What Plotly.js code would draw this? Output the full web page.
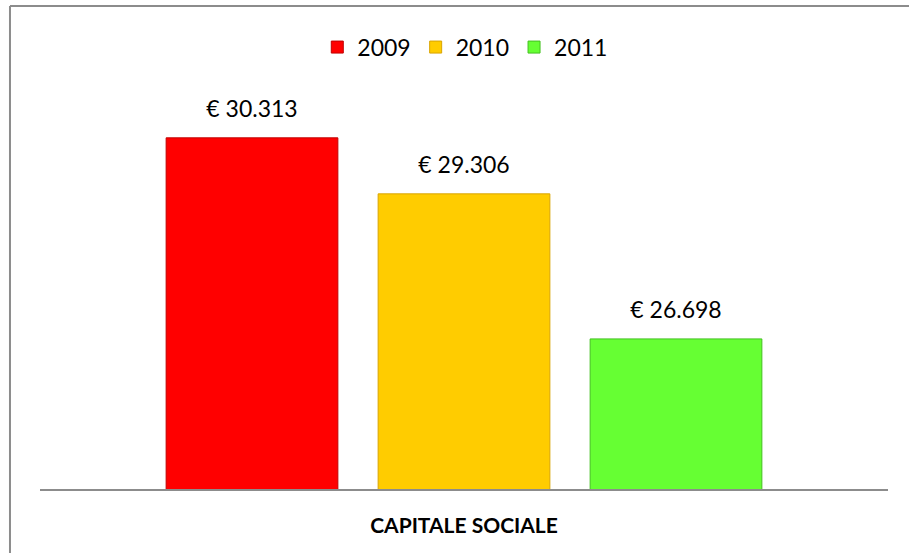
<!DOCTYPE html>
<html>
<head>
<meta charset="utf-8">
<script src="https://cdn.plot.ly/plotly-3.0.1.min.js"></script>
<style>
	html, body { margin: 0; padding: 0; background: #fff; overflow: hidden; }
	#chart { width: 909px; height: 553px; }
</style>
</head>
<body>
<div id="chart"></div>
<script>
// Dati del grafico
var categorie = ["<b>CAPITALE SOCIALE</b>"];
var anni = ["2009", "2010", "2011"];
var valori2009 = [30313];
var valori2010 = [29306];
var valori2011 = [26698];
var colori = ["#ff0000", "#ffcc00", "#66ff33"];
var bordi = ["#c00000", "#d9a400", "#44c020"];

var serie = [valori2009, valori2010, valori2011];

// Barre
var data = [];
for (var i = 0; i < anni.length; i++) {
	data.push({
		type: 'bar',
		name: anni[i],
		x: categorie,
		y: serie[i],
		offsetgroup: anni[i],
		marker: { color: colori[i], line: { color: bordi[i], width: 1 } },
		hoverinfo: 'none'
	});
}

// Etichette sopra le barre (scatter raggruppato come le barre)
for (var i = 0; i < anni.length; i++) {
	data.push({
		type: 'scatter',
		mode: 'markers+text',
		x: categorie,
		y: serie[i],
		offsetgroup: anni[i],
		showlegend: false,
		marker: { size: 22, color: 'rgba(0,0,0,0)' },
		texttemplate: '€ %{y:,.0f}',
		textposition: 'top center',
		textfont: { family: 'Lato, sans-serif', size: 23, color: '#000' },
		cliponaxis: false,
		hoverinfo: 'none'
	});
}

// Cornice (bordo sinistro e superiore)
var bordoSx = {
	type: 'line', xref: 'paper', yref: 'paper',
	x0: -0.0354, x1: -0.0354, y0: -0.2, y1: 1.0854,
	line: { color: '#8c8c8c', width: 2 }
};
var bordoSu = {
	type: 'line', xref: 'paper', yref: 'paper',
	x0: -0.0354, x1: 1.0248, y0: 1.0854, y1: 1.0854,
	line: { color: '#8c8c8c', width: 2 }
};

var layout = {
	width: 909,
	height: 553,
	margin: { l: 40, r: 21, t: 44, b: 64 },
	paper_bgcolor: '#ffffff',
	plot_bgcolor: '#ffffff',
	separators: ',.',
	font: { family: 'Lato, sans-serif', color: '#000' },
	barmode: 'group',
	scattermode: 'group',
	bargap: 0.25,
	bargroupgap: 0.19,
	showlegend: true,
	legend: {
		orientation: 'h',
		x: 0.327, xanchor: 'left',
		y: 0.993, yanchor: 'middle',
		font: { family: 'Lato, sans-serif', size: 23, color: '#000' },
		bgcolor: 'rgba(0,0,0,0)'
	},
	xaxis: {
		showline: true,
		linecolor: '#8c8c8c',
		linewidth: 2,
		ticks: '',
		ticklabelstandoff: 17,
		tickfont: { family: 'Lato, sans-serif', size: 21, color: '#000' },
		showgrid: false,
		zeroline: false,
		fixedrange: true
	},
	yaxis: {
		visible: false,
		range: [24000, 32000],
		fixedrange: true
	},
	shapes: [bordoSx, bordoSu]
};

Plotly.newPlot('chart', data, layout, { displayModeBar: false, staticPlot: true });
</script>
</body>
</html>
